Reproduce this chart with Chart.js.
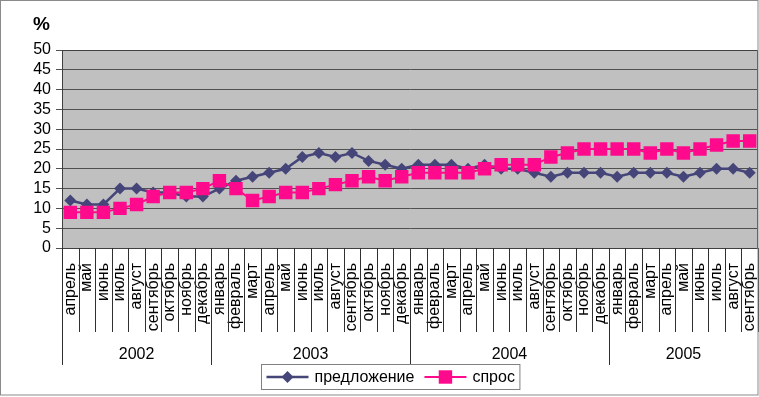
<!DOCTYPE html>
<html><head><meta charset="utf-8">
<script src="https://cdn.jsdelivr.net/npm/chart.js@4/dist/chart.umd.min.js"></script>
<style>html,body{margin:0;padding:0;background:#fff}canvas{display:block}</style>
</head><body>
<canvas id="c" width="759" height="397"></canvas>
<script>
const months = [
  'апрель','май','июнь','июль','август','сентябрь','октябрь','ноябрь','декабрь',
  'январь','февраль','март','апрель','май','июнь','июль','август','сентябрь','октябрь','ноябрь','декабрь',
  'январь','февраль','март','апрель','май','июнь','июль','август','сентябрь','октябрь','ноябрь','декабрь',
  'январь','февраль','март','апрель','май','июнь','июль','август','сентябрь'
];
const yearLabels = ['2002','2003','2004','2005'];
const yearCounts = [9, 12, 12, 9];
const supply = [12,11,11,15,15,14,14,13,13, 15,17,18,19,20,23,24,23,24,22,21,20, 21,21,21,20,21,20,20,19,18,19,19,19, 18,19,19,19,18,19,20,20,19];
const demand = [9,9,9,10,11,13,14,14,15, 17,15,12,13,14,14,15,16,17,18,17,18, 19,19,19,19,20,21,21,21,23,24,25,25, 25,25,24,25,24,25,26,27,27];
const seriesNames = ['предложение','спрос'];
const yMin = 0, yMax = 50, yStep = 5;
const unitLabel = '%';

const FONT = '"Liberation Sans", Arial, Helvetica, sans-serif';
const SUPPLY_COLOR = '#45457a';
const DEMAND_COLOR = '#ff0a8c';

const decor = {
  id: 'decor',
  beforeDraw(chart) {
    const {ctx, chartArea: a} = chart;
    ctx.save();
    ctx.fillStyle = '#fff';
    ctx.fillRect(0, 0, chart.width, chart.height);
    ctx.fillStyle = '#c0c0c0';
    ctx.fillRect(a.left, a.top, a.right - a.left, a.bottom - a.top);
    ctx.restore();
  },
  afterDraw(chart) {
    const {ctx, chartArea: a} = chart;
    const xs = chart.scales.x;
    const n = months.length;
    const w = (xs.right - xs.left) / n;
    ctx.save();
    ctx.strokeStyle = '#404040';
    ctx.lineWidth = 1;
    ctx.strokeRect(a.left + 0.5, a.top + 0.5, a.right - a.left - 1, a.bottom - a.top);
    ctx.strokeStyle = '#303030';
    ctx.beginPath();
    for (let i = 0; i <= n; i++) {
      const px = Math.round(xs.left + i * w) + 0.5;
      ctx.moveTo(px, a.bottom);
      ctx.lineTo(px, a.bottom + 84);
    }
    ctx.stroke();
    ctx.beginPath();
    let start = 0;
    ctx.font = '16px ' + FONT;
    ctx.fillStyle = '#000';
    ctx.textAlign = 'center';
    ctx.textBaseline = 'middle';
    for (let g = 0; g < yearLabels.length; g++) {
      const px = Math.round(xs.left + start * w) + 0.5;
      ctx.moveTo(px, a.bottom);
      ctx.lineTo(px, a.bottom + 117);
      const cx = xs.left + (start + yearCounts[g] / 2) * w;
      ctx.fillText(yearLabels[g], cx, a.bottom + 107);
      start += yearCounts[g];
    }
    ctx.stroke();
    ctx.font = 'bold 19px ' + FONT;
    ctx.textAlign = 'left';
    ctx.textBaseline = 'alphabetic';
    ctx.fillText(unitLabel, 33, 30);
    ctx.font = '16px ' + FONT;
    const sample = 42, gapT = 6, gapItem = 10, pad = 5;
    const tw = chart.data.datasets.map(d => ctx.measureText(d.label).width);
    const total = pad + sample + gapT + tw[0] + gapItem + sample + gapT + tw[1] + pad;
    const lx = Math.round(390 - total / 2) + 0.5;
    const ly = 364.5, lh = 25;
    ctx.strokeStyle = '#808080';
    ctx.strokeRect(lx, ly, total, lh);
    let cx = lx + pad;
    const cy = ly + lh / 2;
    chart.data.datasets.forEach((d, i) => {
      ctx.strokeStyle = d.borderColor;
      ctx.lineWidth = d.borderWidth;
      ctx.beginPath();
      ctx.moveTo(cx, cy); ctx.lineTo(cx + sample, cy);
      ctx.stroke();
      ctx.fillStyle = d.backgroundColor;
      const mx = cx + sample / 2;
      ctx.beginPath();
      if (d.pointStyle === 'rectRot') {
        const r = d.pointRadius;
        ctx.moveTo(mx - r, cy); ctx.lineTo(mx, cy - r); ctx.lineTo(mx + r, cy); ctx.lineTo(mx, cy + r);
        ctx.closePath();
      } else {
        const s = d.pointRadius * Math.SQRT1_2;
        ctx.rect(mx - s, cy - s, 2 * s, 2 * s);
      }
      ctx.fill();
      cx += sample + gapT;
      ctx.fillStyle = '#000';
      ctx.textAlign = 'left';
      ctx.textBaseline = 'middle';
      ctx.fillText(d.label, cx, cy + 1);
      cx += tw[i] + gapItem;
    });
    ctx.strokeStyle = '#8a8a8a';
    ctx.lineWidth = 1;
    ctx.strokeRect(0.5, 0.5, chart.width - 1.5, chart.height - 2.5);
    ctx.restore();
  }
};

new Chart(document.getElementById('c'), {
  type: 'line',
  data: {
    labels: months,
    datasets: [
      {
        label: seriesNames[0], data: supply,
        borderColor: SUPPLY_COLOR, backgroundColor: SUPPLY_COLOR,
        borderWidth: 2.5, pointStyle: 'rectRot', pointRadius: 6,
        pointBorderWidth: 0, tension: 0, order: 1
      },
      {
        label: seriesNames[1], data: demand,
        borderColor: DEMAND_COLOR, backgroundColor: DEMAND_COLOR,
        borderWidth: 2, pointStyle: 'rect', pointRadius: 9.5,
        pointBorderWidth: 0, tension: 0, order: 0
      }
    ]
  },
  options: {
    responsive: false,
    animation: false,
    devicePixelRatio: 1,
    layout: { autoPadding: false, padding: { top: 50, right: 1, bottom: 32, left: 0 } },
    plugins: { legend: { display: false }, tooltip: { enabled: false }, title: { display: false } },
    scales: {
      x: {
        type: 'category',
        offset: true,
        grid: { display: true, drawOnChartArea: false, drawTicks: true, tickLength: 12, tickColor: 'rgba(0,0,0,0)' },
        border: { display: true, color: '#404040' },
        ticks: {
          autoSkip: false, maxRotation: 90, minRotation: 90, padding: 3,
          color: '#000', font: { family: FONT, size: 16 }
        },
        afterFit(scale) { scale.height = 117; scale.paddingLeft = 0; scale.paddingRight = 0; }
      },
      y: {
        min: yMin, max: yMax,
        grid: { color: '#505050', lineWidth: 1, tickLength: 6, drawTicks: true },
        border: { display: true, color: '#404040' },
        ticks: { stepSize: yStep, autoSkip: false, padding: 5, color: '#000', font: { family: FONT, size: 16 } },
        afterFit(scale) { scale.width = 62; }
      }
    }
  },
  plugins: [decor]
});
</script>
</body></html>
